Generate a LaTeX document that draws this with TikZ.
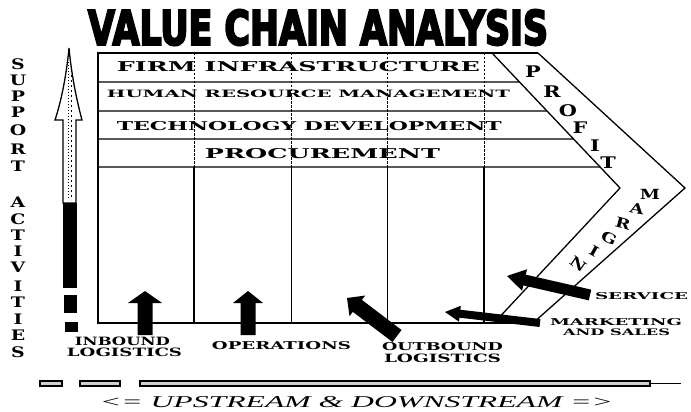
\documentclass[tikz,border=0pt]{standalone}
\usepackage{fontspec}
\setmainfont{DejaVu Serif}
\newfontfamily\titlefont{DejaVu Sans}[BoldFeatures={FakeBold=5}]
\newfontfamily\tabfont{DejaVu Serif}
\newfontfamily\upfont{Liberation Serif}
\usetikzlibrary{calc}
\newcommand{\fitto}[3]{\resizebox{#1pt}{#2pt}{#3}}
\newcommand{\wide}[1]{\scalebox{1.3}[1]{#1}}
% #1 tail, #2 tip, #3 shaft half width, #4 head half width, #5 head length
\newcommand{\blockarr}[5]{%
  \fill[black] (#2)
    -- ($($(#2)!#5!(#1)$)!#4!90:(#1)$)
    -- ($($(#2)!#5!(#1)$)!#3!90:(#1)$)
    -- ($(#1)!#3!-90:(#2)$)
    -- ($(#1)!#3!90:(#2)$)
    -- ($($(#2)!#5!(#1)$)!#3!-90:(#1)$)
    -- ($($(#2)!#5!(#1)$)!#4!-90:(#1)$)
    -- cycle;}
\tikzset{
  txt/.style={inner sep=0pt, outer sep=0pt},
  frame/.style={line width=1.8pt, black},
  rowline/.style={line width=1.3pt, black},
  supcol/.style={line width=1pt, dash pattern=on 2.5pt off 1.5pt},
  pricol/.style={line width=1.3pt},
  band/.style={line width=1.3pt, line join=miter},
  vlet/.style={inner sep=0pt, font=\tabfont\bfseries\fontsize{14.5}{14.5}\selectfont},
  plet/.style={inner sep=0pt, font=\tabfont\bfseries\fontsize{16}{16}\selectfont},
  mlet/.style={inner sep=0pt, font=\tabfont\bfseries\fontsize{14}{14}\selectfont},
  barseg/.style={draw=black, fill=gray!35, line width=1.3pt},
}
\begin{document}
\begin{tikzpicture}[x=1pt,y=-1pt]
\useasboundingbox (0,0) rectangle (691,412);
\fill[white] (0,0) rectangle (691,412);

% title
\node[txt] (title) at (318,27.5) {\fitto{460}{35}{\titlefont\bfseries VALUE CHAIN ANALYSIS}};

% main frame
\coordinate (tl) at (98,53);
\coordinate (bl) at (98,323);
\coordinate (itop) at (492,53);
\coordinate (ivx) at (620,188);
\coordinate (ibot) at (494,323);
\coordinate (otop) at (538,53);
\coordinate (ovx) at (685,188);
\coordinate (obot) at (533,323);
\draw[frame] (otop) -- (tl) -- (bl) -- (obot);
\draw[band] (itop) -- (ivx) -- (ibot);
\draw[band] (otop) -- (ovx) -- (obot);
\foreach \y in {82,111,139,167}{
  \draw[rowline] (98,\y) -- ($(itop)!{(\y-53)/135}!(ivx)$);
}
\foreach \x in {194,291.5,387.5,484}{
  \draw[supcol] (\x,53) -- (\x,167);
  \draw[pricol] (\x,167) -- (\x,323);
}

% support rows
\node[txt] (firm) at (298.5,67) {\fitto{363}{10}{\tabfont\bfseries FIRM INFRASTRUCTURE}};
\node[txt] (hrm) at (308.5,93.7) {\fitto{403}{7.5}{\tabfont\bfseries HUMAN RESOURCE MANAGEMENT}};
\node[txt] (tech) at (309.3,126.5) {\fitto{385}{9}{\tabfont\bfseries TECHNOLOGY DEVELOPMENT}};
\node[txt] (proc) at (322.5,153.7) {\fitto{235}{10}{\tabfont\bfseries PROCUREMENT}};

% profit margin
\foreach \l/\x/\y [count=\i] in {P/533/72,R/552/92,O/568/111,F/580/128,I/595/146,T/608/163}{
  \node[plet] (pm\i) at (\x,\y) {\wide{\l}};
}
\foreach \l/\x/\y/\r [count=\i] in {M/650/194/0,A/637/209/-10,R/623/224/-15,G/609/238/-25,I/594/251/-30,N/578/264/-35}{
  \node[mlet, rotate=\r] (mg\i) at (\x,\y) {\wide{\l}};
}

% support activities
\foreach \l/\y [count=\i] in {S/64,U/80.7,P/96.5,P/112.7,O/130.7,R/149,T/166.7}{
  \node[vlet] (sup\i) at (18,\y) {\wide{\l}};
}
\foreach \l/\y [count=\i] in {A/202.7,C/219,T/235,I/251.7,V/267,I/286,T/302.7,I/319,E/335,S/352}{
  \node[vlet] (act\i) at (18,\y) {\wide{\l}};
}

% support arrow
\draw[line width=1.3pt, fill=white, line join=miter]
  (69,48) .. controls (66,80) and (60,105) .. (55,120) -- (63,120) -- (63,203)
  -- (76,203) -- (76,120) -- (82,120) .. controls (78,105) and (72,80) .. (69,48) -- cycle;
\draw[line width=0.8pt, dash pattern=on 1pt off 2pt] (68,62) -- (68,200);
\draw[line width=0.8pt, dash pattern=on 2pt off 3pt] (71,75) -- (71,200);
\fill[black] (63,203) rectangle (77,288);
\fill[black] (64,295) rectangle (77,313);
\fill[black] (65,322) rectangle (78,332);

% primary activity arrows
\coordinate (inS) at (145,335);  \coordinate (inT) at (145,291);
\coordinate (opS) at (248,335);  \coordinate (opT) at (248,291);
\coordinate (outS) at (397,336); \coordinate (outT) at (347,298);
\coordinate (seS) at (590,295);  \coordinate (seT) at (507,276);
\coordinate (mkS) at (540,323);  \coordinate (mkT) at (445,312);
\blockarr{inS}{inT}{7.5pt}{17pt}{12pt}
\blockarr{opS}{opT}{7.5pt}{15pt}{12pt}
\blockarr{outS}{outT}{7.5pt}{13pt}{13pt}
\blockarr{seS}{seT}{5.5pt}{11pt}{18pt}
\blockarr{mkS}{mkT}{4pt}{8pt}{15pt}

% primary labels
\node[txt] (inb) at (122.5,341.5) {\fitto{95}{8.5}{\tabfont\bfseries INBOUND}};
\node[txt] (inl) at (124.5,352.5) {\fitto{115}{8.5}{\tabfont\bfseries LOGISTICS}};
\node[txt] (ops) at (281.5,346) {\fitto{139}{8}{\tabfont\bfseries OPERATIONS}};
\node[txt] (outb) at (442.5,347) {\fitto{121}{8}{\tabfont\bfseries OUTBOUND}};
\node[txt] (outl) at (442.5,358.5) {\fitto{117}{8.5}{\tabfont\bfseries LOGISTICS}};
\node[txt] (serv) at (641.5,296.5) {\fitto{93}{7}{\tabfont\bfseries SERVICE}};
\node[txt] (mkt) at (616,321.7) {\fitto{132}{7}{\tabfont\bfseries MARKETING}};
\node[txt] (sal) at (616.5,332.3) {\fitto{107}{6.7}{\tabfont\bfseries AND SALES}};

% upstream / downstream bar
\draw[barseg] (40,381) rectangle (62,386);
\draw[barseg] (80,381) rectangle (120,386);
\draw[barseg] (140,381) rectangle (650,386);
\draw[line width=1pt] (650,383.5) -- (681,383.5);
\node[txt] (updown) at (356.5,402.5) {\fitto{513}{11}{\upfont\itshape <= UPSTREAM \& DOWNSTREAM =>}};
\end{tikzpicture}
\end{document}
